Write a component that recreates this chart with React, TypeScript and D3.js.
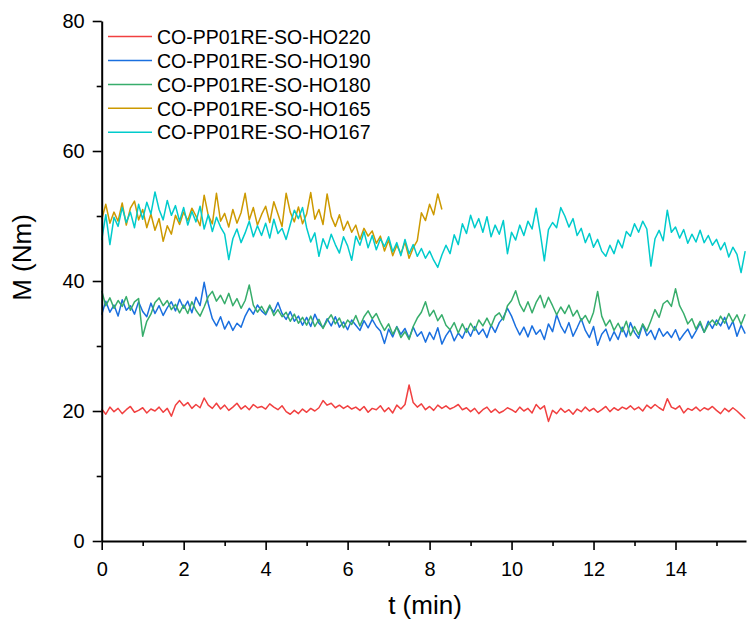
import React, { useEffect, useRef } from 'react';
import * as d3 from 'd3';

const width = 747;
const height = 621;

// samples every 0.1 min
const step = 0.1;

const seriesNames = [
  "CO-PP01RE-SO-HO220",
  "CO-PP01RE-SO-HO190",
  "CO-PP01RE-SO-HO180",
  "CO-PP01RE-SO-HO165",
  "CO-PP01RE-SO-HO167",
];
const seriesColors = ["#F14040", "#1A6FDF", "#37AD6B", "#CC9900", "#00CBCC"];

const ho220 = [
  20.3, 19.5, 20.6, 19.9, 20.4, 19.6, 20.2, 20.7, 19.8, 20.1,
  20.5, 19.7, 20.3, 20.0, 20.6, 19.8, 20.4, 19.2, 20.9, 21.6,
  20.8, 21.3, 20.4, 21.0, 20.5, 22.0, 20.9, 20.4, 21.2, 20.3,
  20.9, 20.1, 20.6, 21.2, 20.3, 20.8, 20.2, 21.0, 20.5, 20.7,
  20.3, 21.1, 20.6, 20.2, 20.8, 19.9, 19.5, 20.1, 19.6, 20.3,
  19.8, 20.4, 20.0, 20.5, 21.6, 20.9, 21.2, 20.5, 20.9, 20.4,
  20.8, 20.3, 20.6, 20.1, 20.7, 19.8, 20.4, 20.2, 20.8, 19.9,
  20.5, 19.7, 20.9, 20.3, 21.0, 24.0, 21.3, 20.6, 21.1, 20.2,
  20.7, 20.1, 20.9, 20.4, 20.8, 20.3, 20.6, 21.0, 20.2, 20.5,
  19.9, 20.4, 19.6, 20.2, 20.6, 19.8, 20.3, 19.7, 20.0, 20.5,
  20.2, 19.8, 20.6, 20.0, 20.4, 19.7, 21.0, 20.3, 20.8, 18.4,
  20.1, 19.6, 20.4, 19.8, 20.2, 19.5, 20.3, 19.9, 20.6, 20.0,
  20.4, 19.8, 20.2, 20.7, 19.9, 20.5, 20.1, 20.6, 20.3, 20.8,
  20.2, 20.6, 20.0, 20.9, 20.4, 21.0, 20.5, 20.1, 21.9, 20.6,
  20.3, 20.8, 19.7, 20.4, 20.1, 20.6, 20.0, 20.5, 20.2, 20.7,
  20.1, 19.6, 20.4, 19.9, 20.5, 20.0, 19.4, 18.8,
];

const ho190 = [
  34.8, 36.9, 35.2, 36.3, 34.6, 37.1, 35.5, 36.2, 34.9, 36.8,
  35.3, 34.5, 36.6, 35.0, 36.2, 34.7, 35.9, 36.8, 35.4, 37.2,
  35.8, 36.9, 35.1, 37.5, 36.2, 39.8, 36.5, 34.2, 33.1, 34.5,
  32.6, 33.8, 32.4, 33.5, 32.9, 34.6, 35.8, 34.9, 36.3, 35.4,
  34.8, 36.1, 35.2, 36.7, 35.0, 34.1, 35.3, 33.8, 34.6, 33.2,
  34.4, 33.0, 34.9, 33.5, 32.8, 34.2, 33.1, 34.5, 32.9, 33.7,
  32.5, 34.0, 33.2, 32.4, 33.9, 32.8, 34.1, 33.0, 32.3, 30.4,
  32.6, 31.4, 33.0, 31.8, 32.7, 31.2, 32.9, 31.5, 32.2, 30.6,
  32.1, 31.0, 32.8, 30.3, 31.6, 32.5, 30.8, 32.0, 31.2, 32.7,
  31.5, 33.0, 31.8, 32.6, 31.3, 33.2, 32.1, 33.6, 34.4, 35.8,
  34.6, 33.0, 31.7, 32.9, 31.4, 33.1, 31.8, 32.5, 31.0, 33.4,
  32.2, 34.8, 33.1, 32.0, 33.6, 31.5, 32.8, 34.2, 32.4, 31.3,
  33.0, 30.1, 31.8, 32.6, 30.8, 32.2, 31.0, 32.9, 31.4, 33.6,
  32.1, 31.2, 33.3, 31.6, 32.4, 31.0, 32.7, 31.5, 32.2, 31.3,
  32.5, 30.9, 31.8, 32.6, 31.2, 32.3, 33.5, 32.1, 33.8, 32.7,
  34.0, 33.1, 34.4, 32.6, 33.8, 31.5, 33.2, 31.9,
];

const ho180 = [
  38.5, 36.2, 37.4, 35.8, 37.0, 36.1, 37.6, 35.5, 36.8, 37.3,
  31.5, 33.8, 34.9, 36.7, 37.4, 36.2, 37.0, 35.6, 36.4, 35.1,
  36.3, 35.0, 36.8, 35.5, 34.6, 36.0, 37.6, 38.4, 36.9, 37.8,
  36.5, 38.1, 36.2, 37.3, 35.8, 37.0, 39.4, 36.3, 35.2, 36.1,
  35.0, 36.3, 34.7, 35.6, 34.5, 35.2, 33.8, 34.9, 33.5, 34.4,
  33.2, 34.6, 33.0, 34.1, 32.7, 33.9, 34.8, 33.4, 34.3, 32.8,
  34.0, 33.3, 34.7, 33.1, 34.5, 35.4, 34.2, 35.0, 33.6, 32.4,
  33.4, 31.8, 32.9, 31.3, 32.2, 31.0, 33.0, 34.3, 35.2, 36.8,
  34.6, 35.5, 33.9, 34.8, 33.2, 32.5, 33.6, 32.0, 33.4, 32.1,
  33.5, 32.4, 34.0, 33.1, 34.3, 33.0, 34.6, 35.1, 34.0, 36.2,
  37.0, 38.5, 36.4, 35.3, 36.8, 35.1, 36.7, 37.8, 35.9, 37.5,
  36.2, 34.8, 36.0, 35.0, 36.3, 34.6, 35.5, 33.9, 34.7, 33.5,
  35.2, 38.4, 34.6, 33.1, 34.0, 32.4, 33.5, 32.2, 33.8, 31.6,
  33.0, 31.8, 33.4, 32.3, 33.9, 35.6, 34.4, 36.5, 37.0, 36.1,
  38.8, 36.2, 35.0, 33.4, 34.2, 32.6, 33.8, 32.1, 33.3, 34.0,
  33.2, 34.6, 33.5, 35.0, 33.7, 34.8, 33.3, 34.9,
];

const ho165 = [
  49.5, 51.8, 48.9, 50.6, 49.2, 52.0, 48.6, 51.2, 52.3, 49.4,
  51.0, 48.2, 50.3, 47.8, 49.6, 46.1, 48.5, 47.2, 50.1, 48.7,
  50.6, 49.3, 51.2, 50.0, 48.5, 53.2, 50.1, 48.8, 53.5, 49.2,
  50.4, 48.3, 51.0, 48.9, 50.5, 53.5, 49.4, 51.3, 48.6, 50.2,
  51.5, 49.0, 52.2, 50.3, 48.4, 53.5, 50.6, 49.1, 51.4, 48.8,
  50.3, 53.6, 49.5, 51.0, 48.7, 53.4, 49.9, 48.4, 50.2, 47.8,
  49.2, 47.5, 48.6, 46.4, 48.1, 46.9, 47.7, 45.8, 46.9, 44.6,
  46.3, 43.9, 45.5, 44.2, 46.0, 43.5, 45.1, 46.2, 50.5, 49.3,
  51.8, 50.2, 53.4, 51.0,
];

const ho167 = [
  46.3, 50.2, 45.6, 49.8, 48.4, 51.3, 49.0, 50.6, 48.2, 51.8,
  49.5, 52.1, 50.3, 53.7, 51.0, 49.4, 52.4, 50.1, 51.6, 49.2,
  51.3, 48.6, 50.7, 49.1, 51.5, 48.0, 50.2, 47.6, 49.8, 48.3,
  47.2, 43.3, 46.5, 48.0, 45.9, 47.4, 49.2, 46.8, 48.5, 47.0,
  48.9, 46.6, 49.5, 47.3, 48.1, 46.4, 48.7, 50.9, 49.6, 51.3,
  48.2, 46.0, 47.4, 43.8, 46.5, 45.0, 47.2, 45.6, 44.3, 46.8,
  45.4, 43.2, 46.9, 45.5, 47.6, 45.1, 47.0, 44.8, 46.5, 45.3,
  46.8, 44.5, 45.9, 43.9, 46.4, 44.2, 45.6, 43.8, 45.0, 43.5,
  44.6, 43.2, 42.1, 44.0, 45.5, 44.2, 47.1, 45.6, 48.8, 47.3,
  50.1, 48.2, 49.6, 47.5, 49.9, 46.8, 48.6, 47.2, 49.3, 44.2,
  47.5, 46.3, 48.6, 47.0, 49.2, 48.0, 51.2, 47.4, 43.1, 47.9,
  49.0, 48.2, 51.3, 50.0, 48.3, 49.6, 47.0, 48.1, 45.9, 47.3,
  45.2, 46.4, 44.6, 43.8, 45.5, 44.2, 46.3, 45.1, 47.6, 46.9,
  48.8, 47.5, 49.2, 48.0, 42.3, 46.5, 47.8, 46.2, 50.9, 47.5,
  48.3, 46.6, 47.9, 45.8, 47.2, 46.0, 47.8, 45.9, 47.0, 45.5,
  46.4, 44.8, 45.9, 43.7, 45.2, 44.1, 41.3, 44.6,
];

const seriesValues = [ho220, ho190, ho180, ho165, ho167];

const xDomain = [0, 15.72];
const yDomain = [0, 80];
const xTicks = [0, 2, 4, 6, 8, 10, 12, 14];
const xMinorTicks = [1, 3, 5, 7, 9, 11, 13, 15];
const yTicks = [0, 20, 40, 60, 80];
const yMinorTicks = [10, 30, 50, 70];

const xLabel = "t (min)";
const yLabel = "M (Nm)";

const font = "Arial, 'Liberation Sans', sans-serif";

function App() {
  const ref = useRef<SVGSVGElement>(null);

  useEffect(() => {
    const svg = d3.select(ref.current);
    svg.selectAll("*").remove();

    const plot = { left: 101.7, right: 746, top: 21, bottom: 541 };

    const x = d3.scaleLinear().domain(xDomain).range([plot.left, plot.right]);
    const y = d3.scaleLinear().domain(yDomain).range([plot.bottom, plot.top]);

    svg.append("rect")
      .attr("width", width)
      .attr("height", height)
      .attr("fill", "#ffffff");

    //////////////////// data lines
    const line = d3.line<number>()
      .x((d, i) => x(i * step))
      .y(d => y(d));

    seriesValues.forEach((values, i) => {
      svg.append("path")
        .datum(values)
        .attr("fill", "none")
        .attr("stroke", seriesColors[i])
        .attr("stroke-width", 1.5)
        .attr("stroke-linejoin", "round")
        .attr("d", line);
    });

    //////////////////// axes
    const xAxis = svg.append("g")
      .attr("transform", "translate(0," + plot.bottom + ")")
      .call(d3.axisBottom(x).tickValues(xTicks).tickSize(9).tickSizeOuter(0).tickPadding(12));
    svg.append("g")
      .attr("transform", "translate(0," + plot.bottom + ")")
      .call(d3.axisBottom(x).tickValues(xMinorTicks).tickSize(5).tickSizeOuter(0).tickFormat(() => ""))
      .select(".domain").remove();

    const yAxis = svg.append("g")
      .attr("transform", "translate(" + plot.left + ",0)")
      .call(d3.axisLeft(y).tickValues(yTicks).tickSize(9).tickSizeOuter(0).tickPadding(8));
    svg.append("g")
      .attr("transform", "translate(" + plot.left + ",0)")
      .call(d3.axisLeft(y).tickValues(yMinorTicks).tickSize(5).tickSizeOuter(0).tickFormat(() => ""))
      .select(".domain").remove();

    svg.selectAll(".domain").attr("stroke", "#000").attr("stroke-width", 2);
    svg.selectAll(".tick line").attr("stroke", "#000").attr("stroke-width", 1.6);
    [xAxis, yAxis].forEach(a => {
      a.selectAll("text")
        .style("font-family", font)
        .style("font-size", "20px")
        .attr("fill", "#000");
    });

    //////////////////// axis titles
    svg.append("text")
      .attr("x", 425)
      .attr("y", 614)
      .attr("text-anchor", "middle")
      .style("font-family", font)
      .style("font-size", "26px")
      .text(xLabel);

    svg.append("text")
      .attr("transform", "translate(31,257.5) rotate(-90)")
      .attr("text-anchor", "middle")
      .style("font-family", font)
      .style("font-size", "26px")
      .text(yLabel);

    //////////////////// legend
    const legend = svg.append("g");
    seriesNames.forEach((name, i) => {
      const ly = 36.6 + i * 23.9;
      legend.append("line")
        .attr("x1", 108).attr("x2", 152)
        .attr("y1", ly).attr("y2", ly)
        .attr("stroke", seriesColors[i])
        .attr("stroke-width", 1.5);
      legend.append("text")
        .attr("x", 157)
        .attr("y", ly + 7.2)
        .style("font-family", font)
        .style("font-size", "19.5px")
        .attr("fill", "#000")
        .text(name);
    });
  }, []);

  return (
    <svg
      ref={ref}
      width={width}
      height={height}
      style={{ position: "absolute", left: 0, top: 0, display: "block" }}
    />
  );
}

export default App;
